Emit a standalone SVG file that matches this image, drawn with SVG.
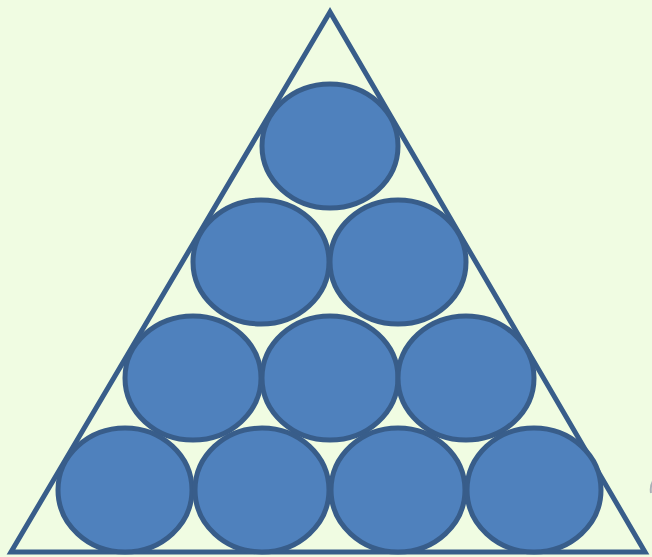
<svg xmlns="http://www.w3.org/2000/svg" width="652" height="557" viewBox="0 0 652 557">
<style>
.b{fill:#4f81bd;stroke:#385d8a;stroke-width:5}
.t{fill:none;stroke:#385d8a;stroke-width:5;stroke-linejoin:miter}
</style>
<rect width="652" height="557" fill="#f0fce2"/>
<g id="triangle"><polygon class="t" points="330,12 11,552 645,552"/></g>
<g id="c1"><ellipse class="b" cx="330" cy="146" rx="68" ry="62"/></g>
<g id="c2"><ellipse class="b" cx="261" cy="262" rx="68" ry="62"/></g>
<g id="c3"><ellipse class="b" cx="398" cy="262" rx="68" ry="62"/></g>
<g id="c4"><ellipse class="b" cx="193" cy="378" rx="68" ry="62"/></g>
<g id="c5"><ellipse class="b" cx="330" cy="378" rx="68" ry="62"/></g>
<g id="c6"><ellipse class="b" cx="466" cy="378" rx="68" ry="62"/></g>
<g id="c7"><ellipse class="b" cx="125" cy="490" rx="67" ry="62"/></g>
<g id="c8"><ellipse class="b" cx="262" cy="490" rx="67" ry="62"/></g>
<g id="c9"><ellipse class="b" cx="398" cy="490" rx="67" ry="62"/></g>
<g id="c10"><ellipse class="b" cx="534" cy="490" rx="67" ry="62"/></g>
<g id="connectors"></g>
<path d="M653,481 Q650,486 651,493" fill="none" stroke="#aab0b8" stroke-width="2"/>
</svg>
